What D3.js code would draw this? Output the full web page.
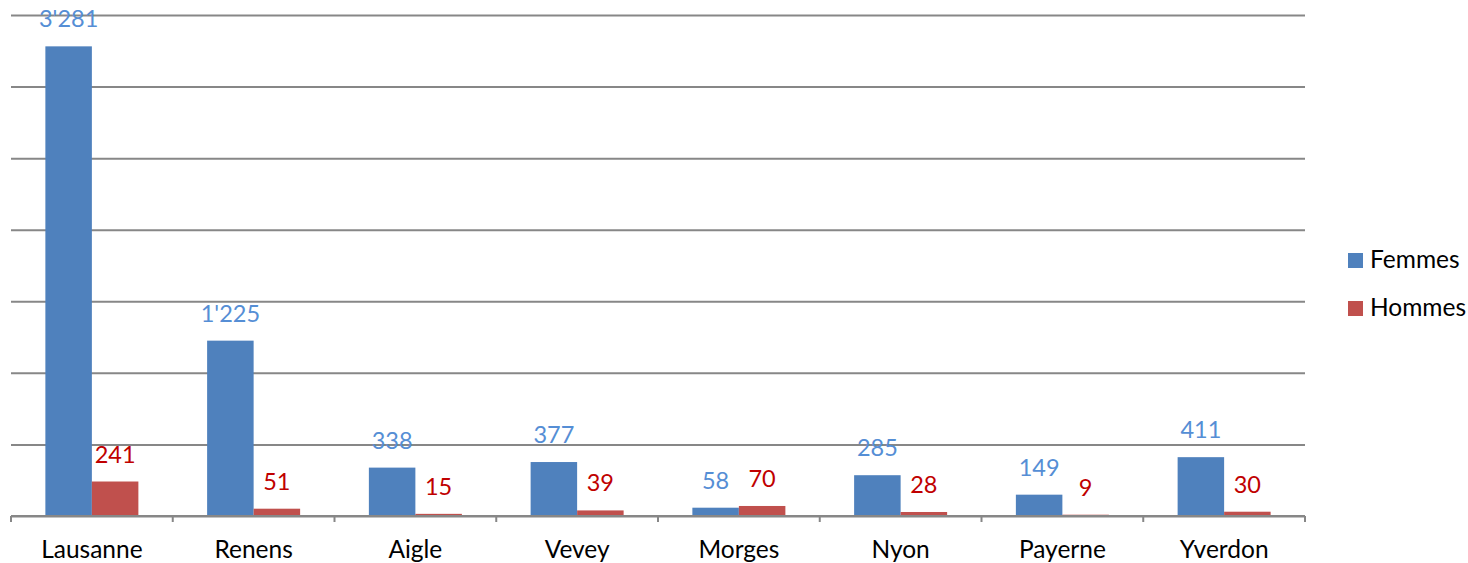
<!DOCTYPE html>
<html>
<head>
<meta charset="utf-8">
<script src="https://cdn.jsdelivr.net/npm/d3@7"></script>
<style>
  html, body { margin: 0; padding: 0; background: #ffffff; }
  svg { display: block; font-family: Lato, "Noto Sans", sans-serif; }
</style>
</head>
<body>
<svg id="chart" width="1468" height="563"></svg>
<script>
const categories = ["Lausanne", "Renens", "Aigle", "Vevey", "Morges", "Nyon", "Payerne", "Yverdon"];
const seriesNames = ["Femmes", "Hommes"];
const femmes = [3281, 1225, 338, 377, 58, 285, 149, 411];
const hommes = [241, 51, 15, 39, 70, 28, 9, 30];
const yTicks = [0, 500, 1000, 1500, 2000, 2500, 3000, 3500];

const barColors = ["#4f81bd", "#c0504d"];
const labelColors = ["#558ed5", "#c00000"];
const seriesValues = [femmes, hommes];

const svg = d3.select("#chart");
const mLeft = 11, mRight = 1305, mTop = 15, mBottom = 516;

const x = d3.scaleBand().domain(categories).range([mLeft, mRight]).paddingInner(0.425).paddingOuter(0.2125);
const xs = d3.scaleBand().domain(seriesNames).range([0, x.bandwidth()]);
const y = d3.scaleLinear().domain([0, 3500]).range([mBottom, mTop]);

const fmt = d3.formatLocale({decimal: ".", thousands: "'", grouping: [3], currency: ["", ""]}).format(",");

// gridlines
const grid = svg.append("g").attr("transform", `translate(${mLeft},0)`)
  .call(d3.axisLeft(y).tickValues(yTicks).tickSize(-(mRight - mLeft)).tickFormat(""));
grid.select(".domain").remove();
grid.selectAll(".tick line").attr("stroke", "#878787").attr("stroke-width", 2);

// bars
const data = [];
categories.forEach((c, i) => seriesNames.forEach((s, j) => data.push({c, s, j, v: seriesValues[j][i]})));

svg.append("g").selectAll("rect").data(data).join("rect")
  .attr("x", d => x(d.c) + xs(d.s))
  .attr("width", xs.bandwidth())
  .attr("y", d => y(d.v))
  .attr("height", d => y(0) - y(d.v))
  .attr("fill", d => barColors[d.j]);

// value labels
svg.append("g").selectAll("text").data(data).join("text")
  .attr("x", d => x(d.c) + xs(d.s) + xs.bandwidth() / 2)
  .attr("y", d => y(d.v) - 19)
  .attr("text-anchor", "middle")
  .attr("font-size", 23.5)
  .attr("fill", d => labelColors[d.j])
  .text(d => fmt(d.v));

// x axis
const xAxisScale = d3.scalePoint().domain(d3.range(categories.length + 1)).range([mLeft, mRight]);
const xa = svg.append("g").attr("transform", `translate(0,${mBottom})`);
xa.append("line").attr("x1", mLeft).attr("x2", mRight).attr("y1", 0).attr("y2", 0)
  .attr("stroke", "#878787").attr("stroke-width", 2);
xa.selectAll("line.tk").data(d3.range(categories.length + 1)).join("line").attr("class", "tk")
  .attr("x1", d => xAxisScale(d)).attr("x2", d => xAxisScale(d))
  .attr("y1", 0).attr("y2", 6).attr("stroke", "#878787").attr("stroke-width", 2);
xa.selectAll("text").data(categories).join("text")
  .attr("x", d => x(d) + x.bandwidth() / 2)
  .attr("y", 42)
  .attr("text-anchor", "middle")
  .attr("font-size", 24.5)
  .attr("fill", "#000")
  .text(d => d);

// legend
const lg = svg.append("g").selectAll("g").data(seriesNames).join("g")
  .attr("transform", (d, i) => `translate(1348,${253 + i * 48})`);
lg.append("rect").attr("width", 15).attr("height", 15).attr("fill", (d, i) => barColors[i]);
lg.append("text").attr("x", 22).attr("y", 15).attr("font-size", 24.5).attr("fill", "#000").text(d => d);
</script>
</body>
</html>
